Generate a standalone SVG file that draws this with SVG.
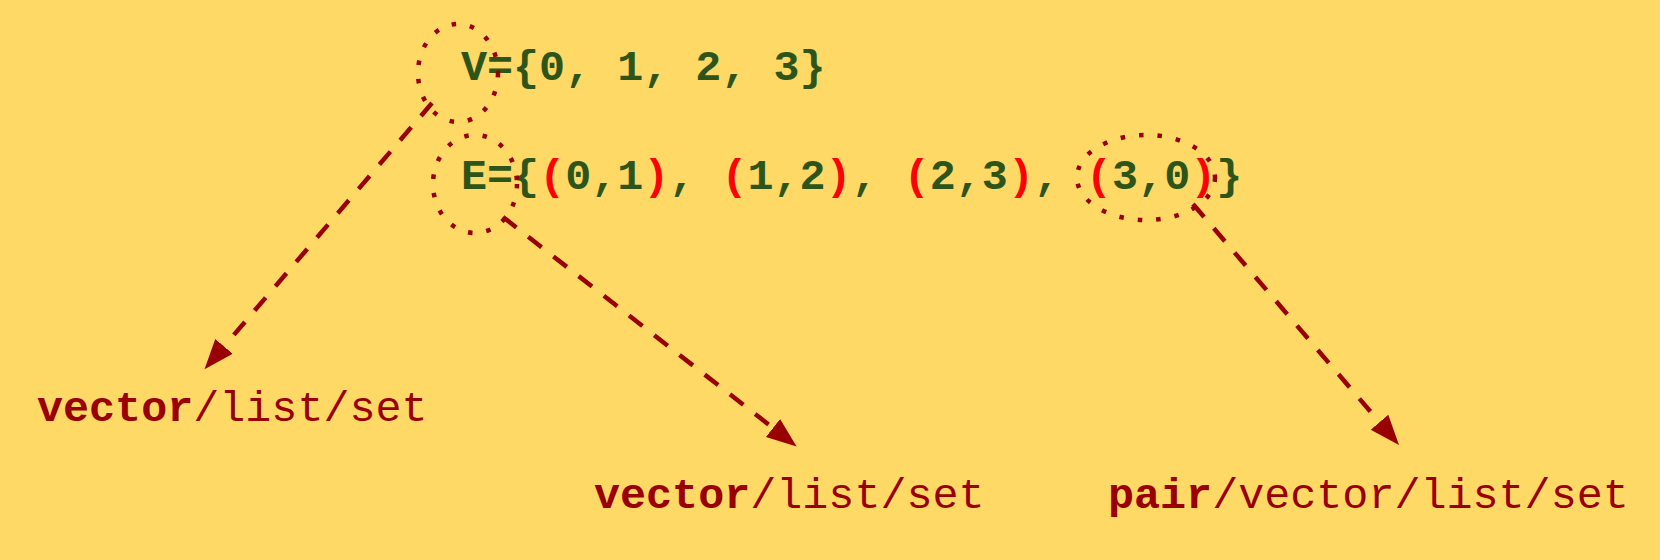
<svg xmlns="http://www.w3.org/2000/svg" width="1660" height="560" viewBox="0 0 1660 560">
<defs>
<style>
.t{font-family:"Courier New","Liberation Mono",monospace;font-size:43.4px;}
.g{fill:#2D5519;font-weight:bold;}
.r{fill:#FF0000;font-weight:bold;}
.lb{fill:#990000;font-weight:bold;}
.ln{fill:#990000;font-weight:normal;}
.dot{fill:none;stroke:#990000;stroke-width:4.5;stroke-dasharray:4.5 14;}
.arr{fill:none;stroke:#990000;stroke-width:4.5;stroke-dasharray:17 15;marker-end:url(#ah);}
</style>
<marker id="ah" markerUnits="userSpaceOnUse" markerWidth="32" markerHeight="26" refX="0" refY="13" orient="auto" viewBox="0 0 32 26">
<path d="M0,1.5 L30,13 L0,24.5 z" fill="#990000"/>
</marker>
</defs>
<rect x="0" y="0" width="1660" height="560" fill="#FFD966"/>
<g id="vset">
<text class="t g" x="461" y="80">V={0, 1, 2, 3}</text>
<ellipse class="dot" cx="458" cy="73" rx="40" ry="49"/>
</g>
<g id="eset">
<text class="t g" x="461" y="189">E={<tspan class="r">(</tspan>0,1<tspan class="r">)</tspan>, <tspan class="r">(</tspan>1,2<tspan class="r">)</tspan>, <tspan class="r">(</tspan>2,3<tspan class="r">)</tspan>, <tspan class="r">(</tspan>3,0<tspan class="r">)</tspan>}</text>
<ellipse class="dot" cx="475" cy="184" rx="42" ry="49"/>
<ellipse class="dot" cx="1146" cy="177.5" rx="69" ry="42.5"/>
</g>
<g id="label1">
<text class="t" x="37" y="421"><tspan class="lb">vector</tspan><tspan class="ln">/list/set</tspan></text>
</g>
<g id="label2">
<text class="t" x="594" y="508"><tspan class="lb">vector</tspan><tspan class="ln">/list/set</tspan></text>
</g>
<g id="label3">
<text class="t" x="1108" y="508"><tspan class="lb">pair</tspan><tspan class="ln">/vector/list/set</tspan></text>
</g>
<g id="connectors">
<path class="arr" d="M432,103 L224,346.4"/>
<path class="arr" d="M503,217 L773,428"/>
<path class="arr" d="M1193,204 L1379.5,422.2"/>
</g>
</svg>
